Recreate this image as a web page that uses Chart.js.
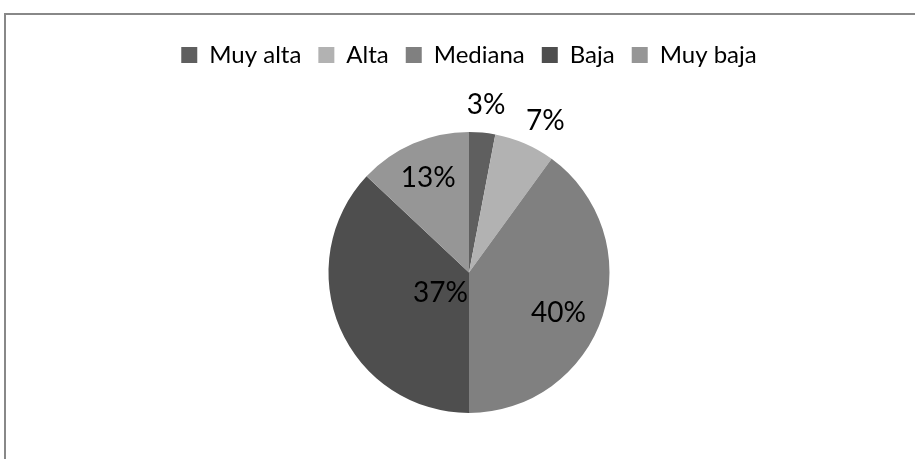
<!DOCTYPE html>
<html>
<head>
<meta charset="utf-8">
<script src="https://cdn.jsdelivr.net/npm/chart.js@4.4.0/dist/chart.umd.min.js"></script>
<style>
  html, body { margin: 0; padding: 0; background: #fff; }
  #wrap { position: relative; width: 915px; height: 459px; overflow: hidden; }
  #frame {
    position: absolute; left: 4px; top: 13px; width: 940px; height: 470px;
    border-top: 2px solid #888; border-left: 2px solid #888;
  }
  #chart { position: absolute; left: 0; top: 0; }
</style>
</head>
<body>
<div id="wrap">
  <div id="frame"></div>
  <canvas id="chart" width="915" height="459"></canvas>
</div>
<script>
// --- Data ---
const categories = ['Muy alta', 'Alta', 'Mediana', 'Baja', 'Muy baja'];
const shares = [3, 7, 40, 37, 13];
const sliceColors = ['#5f5f5f', '#b2b2b2', '#808080', '#4e4e4e', '#969696'];

// where each % label sits: fraction along its slice, and distance as a fraction of the radius
const labelAngleFrac = [0.54, 0.63, 0.545, 0.41, 0.5];
const labelRadiusFrac = [1.2, 1.21, 0.7, 0.25, 0.73];

const FONT = "Lato, 'Open Sans', sans-serif";

// extra room under the legend, like the spreadsheet layout
const legendSpacer = {
    id: 'legendSpacer',
    beforeInit(chart) {
        const legend = chart.legend;
        if (!legend) return;
        const origFit = legend.fit;
        legend.fit = function () {
            origFit.call(this);
            this.height += 55;
        };
    }
};

// percentage labels drawn from the arc elements
const pctLabels = {
    id: 'pctLabels',
    afterDatasetsDraw(chart) {
        const { ctx } = chart;
        const meta = chart.getDatasetMeta(0);
        ctx.save();
        ctx.font = `28px ${FONT}`;
        ctx.fillStyle = '#000';
        ctx.textAlign = 'center';
        ctx.textBaseline = 'middle';
        meta.data.forEach((arc, i) => {
            const { x, y, startAngle, endAngle, outerRadius } = arc.getProps(['x', 'y', 'startAngle', 'endAngle', 'outerRadius'], true);
            const a = startAngle + (endAngle - startAngle) * labelAngleFrac[i];
            const r = outerRadius * labelRadiusFrac[i];
            ctx.fillText(shares[i] + '%', x + Math.cos(a) * r, y + Math.sin(a) * r);
        });
        ctx.restore();
    }
};

new Chart(document.getElementById('chart'), {
    type: 'pie',
    data: {
        labels: categories,
        datasets: [{
            data: shares,
            backgroundColor: sliceColors,
            borderWidth: 0
        }]
    },
    options: {
        responsive: false,
        animation: false,
        layout: { padding: { top: 26, bottom: 46, left: 23, right: 0 } },
        plugins: {
            legend: {
                position: 'top',
                labels: {
                    boxWidth: 16,
                    boxHeight: 16,
                    padding: 17,
                    color: '#000',
                    font: { family: FONT, size: 24 }
                }
            },
            tooltip: { enabled: false }
        }
    },
    plugins: [legendSpacer, pctLabels]
});
</script>
</body>
</html>
